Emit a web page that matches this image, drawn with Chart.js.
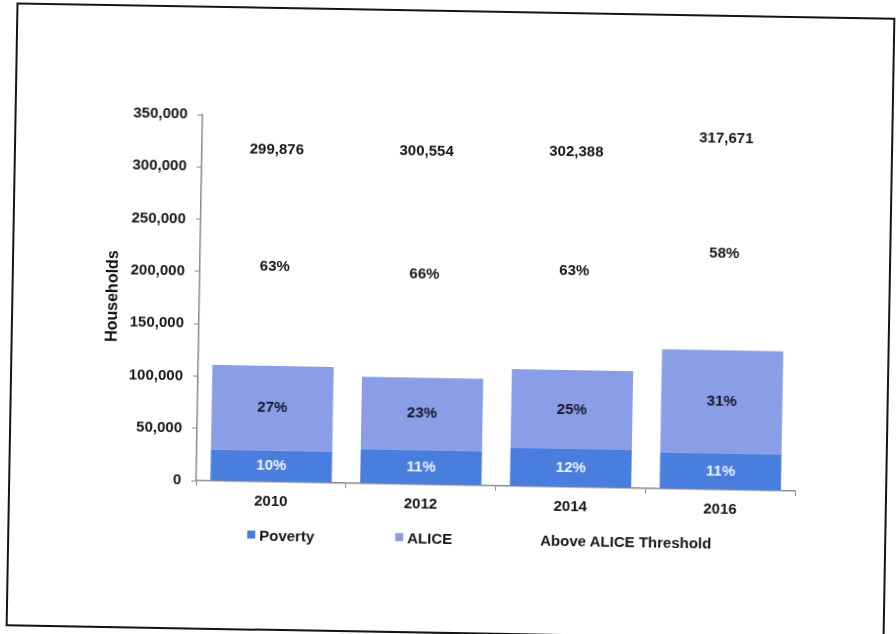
<!DOCTYPE html>
<html>
<head>
<meta charset="utf-8">
<title>Households by Income Level</title>
<script src="https://cdn.jsdelivr.net/npm/chart.js@4.4.1/dist/chart.umd.min.js"></script>
<style>
  html, body { margin: 0; padding: 0; background: #fff; }
  body { width: 896px; height: 634px; overflow: hidden; position: relative; }
  #frame {
    position: absolute; left: 11px; top: 10px; width: 879px; height: 624px;
    box-sizing: border-box; border: 2px solid #141414;
    transform: rotate(1deg);
  }
  #households { position: absolute; left: 0; top: 0; }
  #legend {
    position: absolute; left: 238px; top: 517px; height: 18px;
    display: flex; align-items: center;
    font: bold 15px "Liberation Sans", Arial, sans-serif; color: #161616;
  }
  .item { display: flex; align-items: center; white-space: nowrap; }
  .item + .item { margin-left: 81px; }
  .item + .item + .item { margin-left: 76px; }
  .swatch { width: 8px; height: 8px; margin-right: 4px; }
</style>
</head>
<body>
<div id="frame">
  <canvas id="households" width="875" height="620"></canvas>
  <div id="legend"></div>
</div>
<script>
const years = ['2010', '2012', '2014', '2016'];
const totalHouseholds = [299876, 300554, 302388, 317671];
const povertyPct = [10, 11, 12, 11];
const alicePct = [27, 23, 25, 31];
const abovePct = [63, 66, 63, 58];
const yTicks = [0, 50000, 100000, 150000, 200000, 250000, 300000, 350000];

const FONT = '"Liberation Sans", Arial, sans-serif';
const TEXT = '#161616';
const AXIS = '#8a8a8a';

// households in each band = total * share
function share(pcts) {
  return pcts.map((p, i) => Math.round(totalHouseholds[i] * p / 100));
}

const series = [
  { label: 'Poverty', pct: povertyPct, color: 'rgb(74,126,222)', labelColor: '#eef1ff' },
  { label: 'ALICE', pct: alicePct, color: 'rgb(138,158,232)', labelColor: '#151525' },
  { label: 'Above ALICE Threshold', pct: abovePct, color: 'rgba(255,255,255,0)', labelColor: TEXT }
];

const barLabels = {
  id: 'barLabels',
  afterDatasetsDraw(chart) {
    const ctx = chart.ctx;
    ctx.save();
    ctx.font = 'bold 15px ' + FONT;
    ctx.textAlign = 'center';
    ctx.textBaseline = 'middle';
    chart.data.datasets.forEach((ds, i) => {
      chart.getDatasetMeta(i).data.forEach((bar, j) => {
        const c = bar.getCenterPoint();
        ctx.fillStyle = series[i].labelColor;
        ctx.fillText(series[i].pct[j] + '%', c.x, c.y);
      });
    });
    // total households above each stack
    ctx.fillStyle = TEXT;
    chart.getDatasetMeta(2).data.forEach((bar, j) => {
      ctx.fillText(totalHouseholds[j].toLocaleString('en-US'), bar.x, bar.y - 19);
    });
    ctx.restore();
  }
};

const chart = new Chart(document.getElementById('households'), {
  type: 'bar',
  data: {
    labels: years,
    datasets: series.map(s => ({
      label: s.label,
      data: share(s.pct),
      backgroundColor: s.color,
      borderWidth: 0,
      categoryPercentage: 1,
      barPercentage: 0.81
    }))
  },
  options: {
    responsive: false,
    animation: false,
    layout: { padding: { left: 86, right: 90, top: 107, bottom: 117 } },
    plugins: {
      legend: { display: false },
      tooltip: { enabled: false }
    },
    scales: {
      x: {
        stacked: true,
        border: { color: AXIS, width: 1.5 },
        grid: { drawOnChartArea: false, tickLength: 5, color: AXIS },
        ticks: { color: TEXT, padding: 6, font: { family: FONT, size: 15, weight: 'bold' } },
        afterFit(scale) { scale.height = 30; }
      },
      y: {
        stacked: true,
        min: 0,
        max: 350000,
        afterBuildTicks(scale) { scale.ticks = yTicks.map(v => ({ value: v })); },
        border: { color: AXIS, width: 1.5 },
        grid: { drawOnChartArea: false, tickLength: 5, color: AXIS },
        ticks: {
          color: TEXT, padding: 10,
          font: { family: FONT, size: 15, weight: 'bold' },
          callback: v => v.toLocaleString('en-US')
        },
        title: {
          display: true, text: 'Households', color: '#111',
          font: { family: FONT, size: 16, weight: 'bold' }
        },
        afterFit(scale) { scale.width = 100; }
      }
    }
  },
  plugins: [barLabels]
});

// legend row under the axis
const legend = document.getElementById('legend');
series.forEach(s => {
  const item = document.createElement('div');
  item.className = 'item';
  const sw = document.createElement('span');
  sw.className = 'swatch';
  sw.style.background = s.color;
  item.appendChild(sw);
  item.appendChild(document.createTextNode(s.label));
  legend.appendChild(item);
});
</script>
</body>
</html>
